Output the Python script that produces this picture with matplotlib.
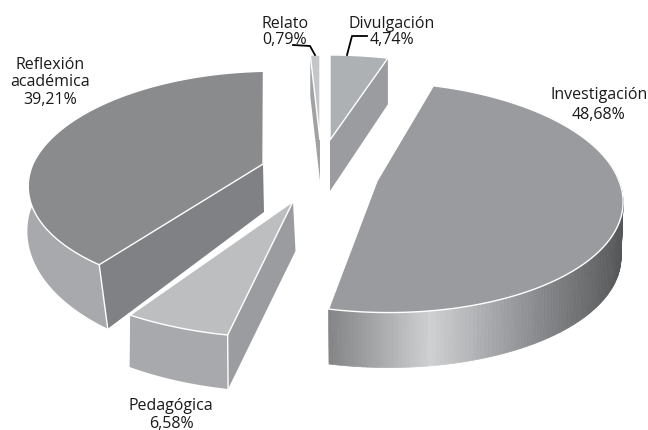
import numpy as np
import matplotlib
matplotlib.use('Agg')
import matplotlib.pyplot as plt
from matplotlib.collections import PolyCollection
from matplotlib.colors import to_rgb

categories = ['Divulgación', 'Investigación', 'Pedagógica', 'Reflexión\nacadémica', 'Relato']
values = [4.74, 48.68, 6.58, 39.21, 0.79]

# apex x, apex y, x radius, y radius, perspective, shear back, shear front
TOP = [(330, 141, 235, 102, 0.2, 0, 0),
       (377, 182, 242, 113, 0.141, -7.4, -10),
       (293, 202.5, 301, 162, -0.19, 0, 13.6),
       (263, 165, 230, 108, 0.164, 12, 8.5),
       (320, 141, 235, 102, 0.2, 0, 0)]
BOTTOM = [(330, 192, 235, 108, 0.2, 0, 0),
          (377, 237, 240, 113, 0.141, -7.4, -10),
          (295.5, 252, 287, 155, -0.1, 0, 13.1),
          (264, 213, 234, 127, 0.148, 12, 0),
          (320, 182, 235, 102, 0.2, 0, 0)]
TOP_COLORS = ['#aeb1b3', '#9a9b9e', '#bcbec0', '#8a8b8d', '#c4c6c8']
ARC_COLORS = ['#9b9c9f', None, '#a7a9ac', '#a7a9ac', '#a0a2a4']
RADIAL_COLORS = ['#9b9c9f', None, '#9b9c9f', '#808184', '#a0a2a4']
LABEL_POS = [(392, 32), (599, 105), (171, 415), (50, 82.5), (285, 32)]
LABEL_SPACING = [1.0, 1.37, 1.22, 1.1, 1.0]

GRAD_X = [330, 358, 430, 490, 540, 590, 623]
GRAD_C = ['#858688', '#98999b', '#cfd0d2', '#a8a9ac', '#88898c', '#6a6b6d', '#555658']


def project(theta, p):
    x0, y0, rx, ry, persp, sh_back, sh_front = p
    t = np.radians(theta)
    xx, yy = np.sin(t), np.cos(t)
    den = 1 + persp * yy
    sx = x0 + (rx * xx + sh_back * np.maximum(yy, 0) + sh_front * np.minimum(yy, 0)) / den
    sy = y0 - ry * yy / den
    return np.column_stack([sx, sy])


fig = plt.figure(figsize=(6.48, 4.31), dpi=100)
ax = fig.add_axes([0, 0, 1, 1])
ax.set_xlim(0, 648)
ax.set_ylim(431, 0)
ax.axis('off')

plt.rcParams['font.family'] = ['Open Sans', 'DejaVu Sans']

ends = np.cumsum(values) * 3.6
starts = ends - np.array(values) * 3.6

for i in [4, 0, 3, 2, 1]:
    a, b = starts[i], ends[i]
    th = np.linspace(a, b, 200)
    top = project(th, TOP[i])
    bot = project(th, BOTTOM[i])
    apex_t = np.array(TOP[i][:2], float)
    apex_b = np.array(BOTTOM[i][:2], float)

    # outer wall, only the part that faces the viewer
    wall = (th > 80) & (th < 285)
    if wall.sum() > 1:
        wt, wb = top[wall], bot[wall]
        if ARC_COLORS[i] is not None:
            ax.fill(np.r_[wt[:, 0], wb[::-1, 0]], np.r_[wt[:, 1], wb[::-1, 1]], color=ARC_COLORS[i], lw=0)
        else:
            quads = [[wt[k], wt[k + 1], wb[k + 1], wb[k]] for k in range(len(wt) - 1)]
            mids = [(wt[k, 0] + wt[k + 1, 0]) / 2 for k in range(len(wt) - 1)]
            rgb = np.array([to_rgb(c) for c in GRAD_C])
            cols = np.column_stack([np.interp(mids, GRAD_X, rgb[:, c]) for c in range(3)])
            ax.add_collection(PolyCollection(quads, facecolors=cols, edgecolors=cols, linewidths=0.5))

    # radial wall
    if RADIAL_COLORS[i] is not None:
        k = -1 if i == 0 else 0
        pts = np.array([apex_t, top[k], bot[k], apex_b])
        ax.fill(pts[:, 0], pts[:, 1], color=RADIAL_COLORS[i], lw=0)
        if i in (2, 3):
            ax.plot([top[0, 0], bot[0, 0]], [top[0, 1], bot[0, 1]], color='white', lw=1)

    face = np.vstack([apex_t, top])
    ax.fill(face[:, 0], face[:, 1], facecolor=TOP_COLORS[i], edgecolor='white', lw=1.0, joinstyle='miter')

for i, name in enumerate(categories):
    pct = f'{values[i]:.2f}'.replace('.', ',') + '%'
    ax.text(LABEL_POS[i][0], LABEL_POS[i][1], name + '\n' + pct, ha='center', va='center',
            fontsize=11.5, linespacing=LABEL_SPACING[i], color='#1a1a1a')

# leader lines
ax.plot([293, 310, 315], [46, 47, 56], color='black', lw=1.3)
ax.plot([367, 352, 347], [37, 37, 56], color='black', lw=1.3)

fig.savefig('out.png', dpi=100)
